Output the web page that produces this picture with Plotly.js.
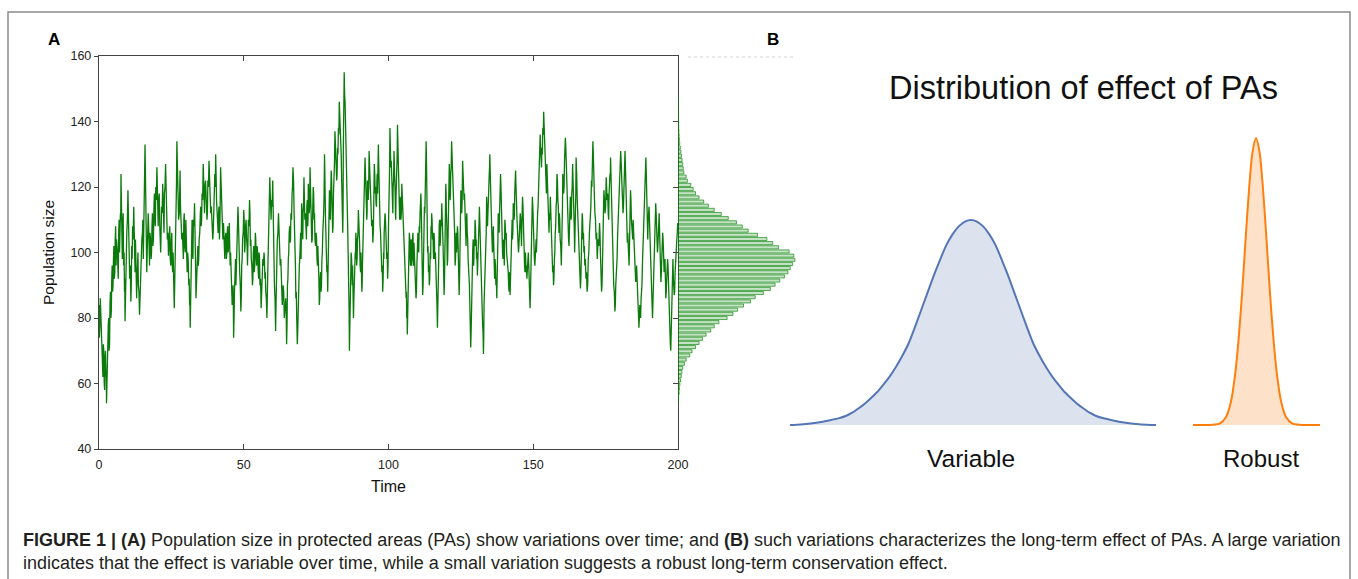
<!DOCTYPE html>
<html>
<head>
<meta charset="utf-8">
<script src="https://cdn.plot.ly/plotly-3.0.1.min.js"></script>
<style>html,body{margin:0;padding:0;background:#fff;}#chart{width:1358px;height:579px;}</style>
</head>
<body>
<div id="chart"></div>
<script>
// ---- Panel A: population time series ----
const timePoints = [0,0.3,0.6,0.9,1.2,1.5,1.8,2.1,2.4,2.6,2.9,3.2,3.5,3.8,4.1,4.4,4.7,5,5.3,5.6,5.9,6.2,6.5,6.8,7.1,7.4,7.6,7.9,8.2,8.5,8.8,9,9.3,9.6,10,10.3,10.6,11,11.3,11.6,12,12.3,12.6,13,13.3,13.6,14,14.3,14.6,15,15.3,15.6,15.9,16.2,16.5,16.8,17,17.3,17.6,18,18.3,18.6,19,19.3,19.6,20,20.3,20.6,21,21.3,21.6,22,22.3,22.6,23,23.3,23.6,24,24.3,24.6,25,25.3,25.6,26,26.3,26.6,26.9,27.2,27.5,28,28.3,28.6,29,29.3,29.6,30,30.3,30.6,31,31.3,31.5,31.8,32,32.3,32.6,33,33.3,33.5,33.8,34,34.3,34.6,35,35.3,35.6,36,36.3,36.6,37,37.3,37.6,38,38.3,38.6,39,39.3,39.6,40,40.3,40.6,41,41.3,41.6,42,42.3,42.6,43,43.3,43.6,44,44.3,44.6,45,45.3,45.6,46,46.3,46.5,46.8,47,47.3,47.6,48,48.3,48.6,49,49.3,49.6,50,50.3,50.6,51,51.3,51.6,52,52.3,52.6,53,53.3,53.6,54,54.3,54.6,55,55.3,55.6,56,56.3,56.6,57,57.3,57.6,58,58.3,58.6,59,59.3,59.6,60,60.3,60.6,61,61.3,61.6,62,62.3,62.6,63,63.3,63.6,64,64.5,64.8,65.1,65.4,65.7,66,66.3,66.7,67,67.4,67.7,68,68.3,68.5,68.8,69.2,69.5,69.8,70,70.3,70.5,70.8,71.1,71.5,71.8,72.1,72.3,72.6,72.9,73.2,73.5,73.8,74,74.3,74.6,75,75.3,75.6,75.8,76.1,76.4,76.7,77,77.3,77.6,77.9,78.2,78.4,78.7,79,79.3,79.6,79.9,80.2,80.5,80.7,81,81.2,81.5,81.8,82.1,82.4,82.7,83,83.2,83.5,83.8,84.2,84.4,84.7,85,85.3,85.6,85.9,86.1,86.3,86.5,86.8,87.1,87.4,87.6,87.9,88.2,88.5,88.7,89,89.3,89.6,89.9,90.2,90.5,90.8,91,91.3,91.6,91.9,92.2,92.5,92.7,93,93.3,93.6,93.9,94.2,94.6,94.9,95.1,95.4,95.7,96,96.2,96.5,96.8,97.1,97.4,97.7,98,98.3,98.5,98.8,99.1,99.4,99.7,100,100.3,100.5,100.8,101.1,101.4,101.6,101.9,102.2,102.4,102.6,102.9,103.1,103.4,103.7,104,104.3,104.6,104.9,105.2,105.5,105.8,106.1,106.3,106.5,106.8,107.2,107.5,107.7,108,108.3,108.6,108.8,109.1,109.5,109.8,110,110.3,110.6,110.9,111.2,111.5,111.8,112.1,112.4,112.7,113,113.3,113.5,113.8,114.1,114.4,114.7,114.9,115.2,115.5,115.7,116,116.4,116.6,116.9,117.2,117.5,117.8,118.1,118.4,118.7,119,119.2,119.5,119.8,120,120.3,120.6,121,121.3,121.5,121.8,122.1,122.4,122.7,123,123.3,123.5,123.8,124.1,124.4,124.7,125,125.3,125.6,125.9,126.1,126.4,126.7,126.9,127.2,127.5,127.8,128.1,128.4,128.7,129.1,129.4,129.6,129.9,130.2,130.4,130.7,131,131.2,131.4,131.7,132,132.2,132.5,132.8,133,133.3,133.6,133.9,134.2,134.5,134.8,135,135.3,135.6,135.9,136.2,136.5,136.8,137.1,137.4,137.7,137.9,138.2,138.5,138.7,139,139.4,139.7,140,140.2,140.5,140.8,141.2,141.5,141.8,142,142.3,142.6,142.8,143.1,143.4,143.6,143.9,144.2,144.6,144.9,145.2,145.5,145.8,146.1,146.3,146.6,147,147.3,147.5,147.8,148,148.3,148.6,148.9,149.2,149.5,149.7,150,150.4,150.7,151,151.2,151.5,151.8,152.1,152.4,152.7,153,153.3,153.6,153.9,154.1,154.4,154.7,155,155.3,155.6,155.9,156.2,156.4,156.7,157,157.3,157.6,157.9,158.2,158.5,158.8,159,159.3,159.7,160,160.2,160.5,160.8,161.1,161.4,161.7,162,162.2,162.5,162.8,163.1,163.3,163.6,164,164.3,164.6,164.8,165.2,165.5,165.8,166,166.3,166.6,166.9,167.2,167.5,167.8,168.2,168.6,169,169.4,169.7,170.1,170.4,170.6,170.9,171.3,171.7,172.1,172.4,172.9,173.2,173.6,173.9,174.1,174.4,174.8,175.2,175.5,175.9,176.2,176.5,176.7,177,177.2,177.5,177.8,178.2,178.5,178.8,179.1,179.3,179.6,179.9,180.2,180.5,180.7,181,181.3,181.7,182,182.2,182.5,182.8,183.1,183.3,183.6,183.9,184.2,184.5,184.8,185.1,185.4,185.7,186,186.3,186.5,186.8,187.1,187.4,187.7,188,188.3,188.6,188.9,189.2,189.4,189.7,190,190.3,190.6,190.9,191.2,191.5,191.8,192.1,192.3,192.6,192.9,193.2,193.5,193.8,194.1,194.4,194.7,195,195.2,195.5,195.8,196.1,196.4,196.7,197,197.2,197.5,197.8,198.1,198.4,198.7,199,199.3,199.6,199.9];
const populationSize = [84,78,82,70,64,72,60,68,62,54,66,78,70,84,80,92,88,98,92,104,96,102,94,106,100,112,124,104,108,96,88,79,96,106,119,100,92,85,102,108,114,98,104,86,96,90,81,94,100,106,98,118,133,110,94,104,112,100,106,98,108,102,115,110,120,126,112,116,108,100,114,121,110,118,127,112,104,99,106,98,104,96,100,83,96,112,134,118,110,125,108,104,100,110,102,110,96,100,90,84,77,96,108,100,110,115,98,86,94,100,96,104,112,108,118,127,114,120,117,110,122,128,116,112,108,104,114,124,130,116,108,112,104,126,116,106,109,100,104,98,106,100,109,96,92,84,90,74,88,96,90,104,114,100,94,82,96,104,113,100,108,104,96,110,116,102,98,90,100,94,106,98,102,94,100,90,83,94,98,100,92,88,80,94,110,123,112,116,122,100,90,76,94,104,112,100,96,92,84,90,80,86,72,90,98,106,103,112,118,126,112,98,86,80,72,84,96,104,98,115,106,112,123,110,106,114,108,121,112,126,114,103,112,120,110,104,106,98,102,94,84,92,88,98,106,112,130,112,100,94,88,104,119,110,125,114,106,118,126,137,128,122,132,138,146,140,134,124,106,132,155,146,130,117,108,98,88,70,88,100,92,96,80,94,100,106,96,104,113,104,96,100,88,96,112,118,129,116,110,122,116,131,120,115,108,103,114,127,118,115,122,118,133,116,108,100,94,88,100,106,112,104,98,92,108,122,138,126,124,114,120,131,120,112,117,128,139,126,112,117,110,121,112,104,100,94,86,80,75,90,106,98,102,96,104,98,103,94,86,96,104,101,108,112,118,100,87,100,114,120,134,112,100,94,90,100,108,112,104,100,106,98,94,86,77,92,108,102,110,115,104,96,87,104,121,112,96,106,127,116,124,134,126,122,110,96,104,100,108,100,87,100,119,112,128,120,116,114,104,110,106,98,91,84,71,88,101,96,104,110,102,98,93,104,108,114,100,92,86,78,69,84,96,101,117,108,121,124,130,116,106,100,108,94,98,90,86,100,112,106,118,124,112,100,104,96,110,104,100,96,90,94,87,100,108,104,115,110,118,125,112,106,100,108,112,104,110,117,106,96,100,94,92,98,100,90,83,96,108,117,106,98,100,104,106,112,119,126,136,128,132,138,143,134,129,120,127,116,108,112,117,104,98,94,90,98,106,114,124,116,108,112,104,96,110,124,118,128,135,126,119,110,104,110,117,110,118,127,112,100,114,129,116,106,98,94,89,100,112,104,100,96,92,88,98,106,112,122,126,134,120,112,104,98,104,109,100,88,96,108,119,112,123,116,112,118,124,129,116,106,98,90,82,90,96,104,110,117,124,131,122,116,112,120,131,120,112,103,100,96,104,119,110,106,110,100,96,91,96,86,82,77,84,80,88,96,104,110,118,129,116,106,110,114,104,96,88,80,92,101,108,115,106,100,106,112,100,91,98,106,100,94,98,86,92,98,90,79,74,70,84,96,92,87,94,100,104,109];
// finer wiggles read between consecutive readings above (one per gap)
const populationBetween = [
74,86,76,72,62,70,58,70,64,62, 74,80,72,88,82,96,90,102,94,108, 104,100,92,110,104,110,116,98,112,100,
92,88,94,110,112,104,96,90,98,104, 108,94,98,92,100,88,86,92,104,110, 104,124,120,104,100,106,108,96,104,100,
112,104,118,108,116,120,108,118,104,106, 112,116,106,120,118,110,106,102,108,96, 106,94,92,90,102,120,124,116,112,114,
110,106,98,112,100,106,94,98,92,86, 88,98,110,98,108,110,94,92,92,102, 98,106,114,110,116,122,112,122,114,112,
120,124,118,114,110,106,116,120,124,112, 106,114,110,122,112,104,106,98,106,100, 108,102,104,100,94,86,84,80,90,98,
94,106,110,102,90,86,98,106,110,102, 110,102,100,108,112,104,96,92,102,96, 104,96,100,92,98,92,86,92,96,98,
94,86,84,100,112,118,110,114,110,98, 86,84,96,106,108,102,98,90,86,88, 82,82,78,92,100,108,104,110,120,122,
108,96,88,78,76,88,98,106,104,112, 104,114,118,112,104,116,110,118,114,122, 110,104,114,118,112,102,104,96,100,92,
86,94,90,100,108,118,122,108,102,96, 96,108,116,114,122,112,108,120,128,134, 130,124,130,136,142,138,130,116,112,140,
148,140,126,114,104,94,82,78,92,98, 90,90,86,96,98,104,98,106,110,102, 94,96,90,102,110,120,124,118,112,120,
120,126,122,112,110,106,118,124,120,114, 124,122,126,114,106,102,96,92,98,108, 110,106,100,96,112,128,132,128,120,112,
122,128,118,110,120,130,134,120,110,116, 112,118,110,106,98,92,88,82,80,96, 104,96,104,98,106,96,100,92,88,98,
106,100,106,114,112,96,90,104,112,124, 126,110,102,96,92,98,106,110,106,98, 104,100,92,84,82,98,110,104,108,112,
102,94,92,110,118,108,98,114,122,118, 126,130,128,118,106,98,106,102,106,96, 92,106,118,116,124,122,118,110,102,112,
104,96,90,80,76,92,104,98,102,108, 104,100,96,102,110,108,98,94,84,76, 74,88,94,106,114,112,118,126,124,112,
104,102,104,92,96,92,90,104,110,110, 116,120,108,98,102,100,108,106,98,94, 88,92,92,102,110,106,112,112,120,120,
110,104,102,106,110,102,112,114,102,94, 98,96,94,96,96,88,88,100,110,114, 104,96,102,100,108,114,120,128,132,126,
130,136,138,132,126,118,122,112,106,110, 112,102,100,96,92,100,108,116,122,114, 106,110,102,100,114,122,120,130,132,124,
116,108,102,112,114,112,120,122,108,104, 118,124,112,104,100,92,92,104,110,106, 102,98,94,90,100,108,114,120,128,130,
118,110,106,100,102,106,96,90,100,112, 116,114,120,118,110,120,122,124,112,104, 96,88,84,92,98,106,112,118,126,128,
120,118,114,124,126,118,108,106,98,100, 110,116,108,104,106,98,94,92,90,84, 80,80,82,86,90,100,106,114,122,124,
112,104,112,110,100,92,84,86,96,104, 110,112,104,102,108,106,96,94,100,104, 98,96,94,88,94,96,86,78,72,76,
90,98,90,88,98,102,106];

// ---- Panel A: marginal histogram of population size ----
const histBinCenters = [54.6,55.87,57.14,58.41,59.68,60.95,62.22,63.49,64.76,66.03,67.3,68.57,69.84,71.11,72.38,73.65,74.92,76.19,77.46,78.73,80.0,81.27,82.54,83.81,85.08,86.35,87.62,88.89,90.16,91.43,92.7,93.97,95.24,96.51,97.78,99.05,100.32,101.59,102.86,104.13,105.4,106.67,107.94,109.21,110.48,111.75,113.02,114.29,115.56,116.83,118.1,119.37,120.64,121.91,123.18,124.45,125.72,126.99,128.26,129.53,130.8,132.07,133.34,134.61,135.88,137.15,138.42,139.69,140.96,142.23,143.5,144.77,146.04,147.31];
const histCounts = [0.3,0.5,1,1.2,1.6,2.2,2.8,3.4,4,5.5,7,10,12,15,18,21,24,28,31,35,42,47,51,56,62,66,73,79,83,87,91,94,96,98,100,99,95,86,81,76,68,60,55,50,43,37,31,26,22,18,15,13,11,8,7,5,4.5,4,3.5,3,2.5,2,1.5,1.2,1,0.8,0.6,0.5,0.4,0.3,0.2,0.2,0.1,0.1];

// ---- Panel B: distribution curves ----
const categories = ["Variable", "Robust"];
const variableX = [-3.93,-3.7,-3.48,-3.25,-3.04,-2.88,-2.72,-2.58,-2.43,-2.3,-2.17,-2.04,-1.91,-1.77,-1.63,-1.49,-1.35,-1.22,-1.09,-0.96,-0.83,-0.69,-0.54,-0.4,-0.26,-0.13,0,0.13,0.26,0.4,0.54,0.69,0.83,0.96,1.09,1.22,1.35,1.49,1.63,1.77,1.91,2.04,2.17,2.3,2.43,2.58,2.72,2.88,3.04,3.25,3.48,3.7,4.02];
const variableY = [0,0.0012,0.003,0.006,0.0098,0.013,0.0176,0.024,0.0332,0.042,0.0527,0.064,0.078,0.094,0.113,0.135,0.16,0.19,0.222,0.254,0.286,0.318,0.35,0.372,0.388,0.397,0.40,0.397,0.388,0.372,0.35,0.318,0.286,0.254,0.222,0.19,0.16,0.135,0.113,0.094,0.078,0.064,0.0527,0.042,0.0332,0.024,0.0176,0.013,0.0098,0.006,0.003,0.0012,0];
const robustX = [-1.37,-0.978,-0.783,-0.652,-0.543,-0.457,-0.38,-0.304,-0.228,-0.152,-0.076,0,0.076,0.152,0.228,0.304,0.38,0.457,0.543,0.652,0.783,0.978,1.39];
const robustY = [0,0.0002,0.0031,0.0154,0.0464,0.0966,0.166,0.256,0.361,0.46,0.533,0.56,0.533,0.46,0.361,0.256,0.166,0.0966,0.0464,0.0154,0.0031,0.0002,0];

const yTicks = [40,60,80,100,120,140,160];
const xTicks = [0,50,100,150,200];

// merge the readings and the in-between wiggles into one line
const seriesT = [], seriesV = [];
for (let i = 0; i < timePoints.length; i++) {
  seriesT.push(timePoints[i]); seriesV.push(populationSize[i]);
  if (i < timePoints.length - 1 && i < populationBetween.length) {
    seriesT.push((timePoints[i] + timePoints[i + 1]) / 2);
    seriesV.push(populationBetween[i]);
  }
}

const W = 1358, H = 579;
const px = v => v / W;
const py = v => 1 - v / H;
const FONT = "Liberation Sans, Arial, Helvetica, sans-serif";
const AXC = "#444";

const traces = [
  { type: "scatter", mode: "lines", x: seriesT, y: seriesV, xaxis: "x", yaxis: "y",
    line: { color: "#0a7a0a", width: 1.3 }, hoverinfo: "skip" },
  { type: "scatter", mode: "none", x: [], y: [], xaxis: "x", yaxis: "y2", hoverinfo: "skip" },
  { type: "bar", orientation: "h", y: histBinCenters, x: histCounts, xaxis: "x3", yaxis: "y",
    width: 0.95, marker: { color: "rgba(60,160,60,0.3)", line: { color: "rgba(0,128,0,0.8)", width: 0.8 } }, hoverinfo: "skip" },
  { type: "scatter", mode: "lines", x: variableX, y: variableY, xaxis: "x4", yaxis: "y4",
    fill: "tozeroy", fillcolor: "#dce3ee", line: { color: "#5576b6", width: 2, shape: "spline", smoothing: 0.6 }, hoverinfo: "skip" },
  { type: "scatter", mode: "lines", x: robustX, y: robustY, xaxis: "x5", yaxis: "y5",
    fill: "tozeroy", fillcolor: "#fde2c9", line: { color: "#ff7f0e", width: 2, shape: "spline", smoothing: 0.8 }, hoverinfo: "skip" }
];

const hidden = { visible: false, showgrid: false, zeroline: false, fixedrange: true };

const layout = {
  width: W, height: H,
  margin: { l: 0, r: 0, t: 0, b: 0 },
  paper_bgcolor: "#fff", plot_bgcolor: "rgba(0,0,0,0)",
  showlegend: false,
  font: { family: FONT, color: "#222" },
  xaxis: {
    domain: [px(99), px(678)], range: [0, 200], anchor: "y",
    tickvals: xTicks, ticks: "inside", ticklen: 5, tickcolor: AXC, tickwidth: 1,
    showline: true, linecolor: AXC, linewidth: 1.2, mirror: "ticks",
    showgrid: false, zeroline: false, tickfont: { size: 12.5, color: "#222" }, ticklabelstandoff: 4,
    title: { text: "Time", font: { size: 16, color: "#111" }, standoff: 9 }
  },
  yaxis: {
    domain: [py(449), py(56)], range: [40, 160], anchor: "x",
    tickvals: yTicks, ticks: "outside", ticklen: 4, tickcolor: AXC, tickwidth: 1,
    showline: true, linecolor: AXC, linewidth: 1.2, mirror: true,
    showgrid: false, zeroline: false, tickfont: { size: 12.5, color: "#222" },
    title: { text: "Population size", font: { size: 15.5, color: "#111" }, standoff: 12 }
  },
  yaxis2: {
    overlaying: "y", side: "right", anchor: "x", range: [40, 160],
    tickvals: yTicks, ticks: "inside", ticklen: 5, tickcolor: AXC, tickwidth: 1,
    showticklabels: false, showline: false, showgrid: false, zeroline: false
  },
  xaxis3: Object.assign({ domain: [px(678), px(798)], range: [0, 102.6], anchor: "y" }, hidden),
  xaxis4: Object.assign({ domain: [px(790), px(1156)], range: [-3.93, 4.02], anchor: "y4" }, hidden),
  yaxis4: Object.assign({ domain: [py(427), py(130)], range: [-0.0039, 0.5756], anchor: "x4" }, hidden),
  xaxis5: Object.assign({ domain: [px(1193), px(1320)], range: [-1.37, 1.39], anchor: "y5" }, hidden),
  yaxis5: Object.assign({ domain: [py(427), py(130)], range: [-0.0039, 0.5756], anchor: "x5" }, hidden),
  shapes: [
    { type: "rect", xref: "paper", yref: "paper", x0: px(8), x1: px(1350), y0: -0.05, y1: py(12),
      line: { color: "#8a8a8a", width: 1.5 }, fillcolor: "rgba(0,0,0,0)", layer: "below" },
    { type: "line", xref: "paper", yref: "paper", x0: px(688), x1: px(795), y0: py(57), y1: py(57),
      line: { color: "#d4d4d4", width: 1, dash: "dot" } }
  ],
  annotations: [
    { text: "<b>A</b>", xref: "paper", yref: "paper", x: px(54), y: py(40), xanchor: "center", yanchor: "middle",
      showarrow: false, font: { size: 17, color: "#000" } },
    { text: "<b>B</b>", xref: "paper", yref: "paper", x: px(773), y: py(40), xanchor: "center", yanchor: "middle",
      showarrow: false, font: { size: 17, color: "#000" } },
    { text: "Distribution of effect of PAs", xref: "paper", yref: "paper", x: px(1083), y: py(88),
      xanchor: "center", yanchor: "middle", showarrow: false, font: { size: 32.5, color: "#111" } },
    { text: categories[0], xref: "x4", yref: "paper", x: 0, y: py(458), xanchor: "center", yanchor: "middle",
      showarrow: false, font: { size: 24.5, color: "#111" } },
    { text: categories[1], xref: "x5", yref: "paper", x: 0.1, y: py(458), xanchor: "center", yanchor: "middle",
      showarrow: false, font: { size: 24, color: "#111" } },
    { text: "<b>FIGURE 1 | (A)</b> Population size in protected areas (PAs) show variations over time; and <b>(B)</b> such variations characterizes the long-term effect of PAs. A large variation",
      xref: "paper", yref: "paper", x: px(21), y: py(540), xanchor: "left", yanchor: "middle",
      showarrow: false, font: { size: 18, color: "#231f20" } },
    { text: "indicates that the effect is variable over time, while a small variation suggests a robust long-term conservation effect.",
      xref: "paper", yref: "paper", x: px(21), y: py(563), xanchor: "left", yanchor: "middle",
      showarrow: false, font: { size: 18, color: "#231f20" } }
  ]
};

Plotly.newPlot("chart", traces, layout, { staticPlot: true, displayModeBar: false });
</script>
</body>
</html>
